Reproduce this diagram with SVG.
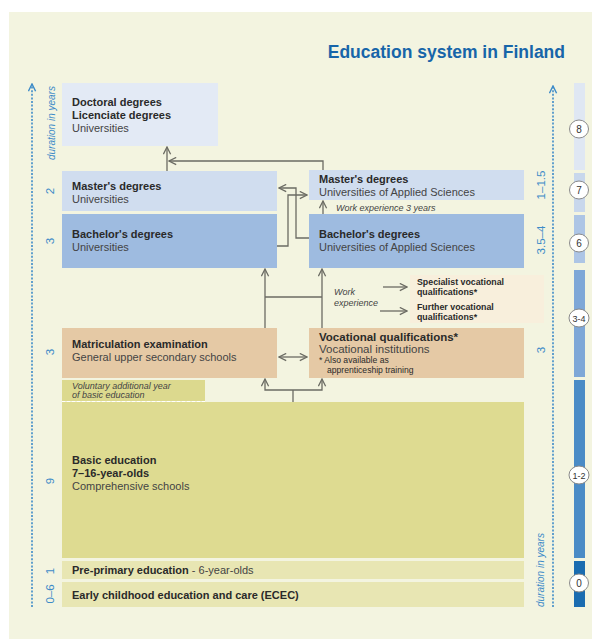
<svg xmlns="http://www.w3.org/2000/svg" width="592" height="639" viewBox="0 0 592 639">
<defs>
<marker id="arr" viewBox="0 0 10 10" refX="9" refY="5" markerWidth="9" markerHeight="9" markerUnits="userSpaceOnUse" orient="auto-start-reverse">
<path d="M1,1 L9,5 L1,9" fill="none" stroke="#6b6b63" stroke-width="1.4"/>
</marker>
<marker id="axarr" viewBox="0 0 10 10" refX="9" refY="5" markerWidth="9" markerHeight="9" markerUnits="userSpaceOnUse" orient="auto">
<path d="M1,1 L9,5 L1,9" fill="none" stroke="#3d8bc8" stroke-width="1.6"/>
</marker>
<style>
text{font-family:"Liberation Sans",Arial,sans-serif;fill:#2a2a2a;}
.b{font-weight:bold;font-size:11px;}
.r{font-size:11px;fill:#444;}
.s{font-size:8.6px;}
.sb{font-size:8.8px;font-weight:bold;}
.i{font-size:9px;font-style:italic;fill:#444;}
.ax{font-size:10px;font-style:italic;fill:#3d8bc8;}
.num{font-size:11.5px;fill:#3d8bc8;}
.cn{font-size:10px;fill:#333;text-anchor:middle;}
.conn{fill:none;stroke:#6b6b63;stroke-width:1.3;}
.axis{fill:none;stroke:#3d8bc8;stroke-width:1.6;stroke-dasharray:2 1.6;}
.circ{fill:#fff;stroke:#8a8a8a;stroke-width:1;}
</style>
</defs>
<rect x="0" y="0" width="592" height="639" fill="#ffffff"/>
<rect x="9" y="12" width="583" height="627" fill="#f3f4e0"/>
<text x="565" y="58" text-anchor="end" style="font-size:17.5px;font-weight:bold;fill:#1765a9">Education system in Finland</text>

<g id="axis-left">
<path class="axis" d="M32,607 V84" marker-end="url(#axarr)"/>
<text class="ax" transform="translate(55,160) rotate(-90)">duration in years</text>
<text class="num" text-anchor="middle" transform="translate(54,191) rotate(-90)">2</text>
<text class="num" text-anchor="middle" transform="translate(54,241) rotate(-90)">3</text>
<text class="num" text-anchor="middle" transform="translate(54,352) rotate(-90)">3</text>
<text class="num" text-anchor="middle" transform="translate(54,481) rotate(-90)">9</text>
<text class="num" text-anchor="middle" transform="translate(54,571) rotate(-90)">1</text>
<text class="num" text-anchor="middle" transform="translate(54,594) rotate(-90)">0–6</text>
</g>

<g id="axis-right">
<path class="axis" d="M553,607 V86" marker-end="url(#axarr)"/>
<text class="ax" transform="translate(544,607) rotate(-90)">duration in years</text>
<text class="num" text-anchor="middle" transform="translate(545,185) rotate(-90)">1–1.5</text>
<text class="num" text-anchor="middle" transform="translate(545,240) rotate(-90)">3.5–4</text>
<text class="num" text-anchor="middle" transform="translate(545,350) rotate(-90)">3</text>
</g>

<g id="level-bar">
<rect x="574" y="83" width="11" height="87" fill="#dfe7f3"/>
<rect x="574" y="173" width="11" height="39" fill="#c8d7ec"/>
<rect x="574" y="215" width="11" height="48" fill="#adc5e5"/>
<rect x="574" y="270" width="11" height="107" fill="#7ea7d7"/>
<rect x="574" y="380" width="11" height="178" fill="#4a8bc6"/>
<rect x="574" y="561" width="11" height="46" fill="#1a6cb0"/>
<ellipse class="circ" cx="579" cy="129" rx="9.5" ry="9"/><text class="cn" x="579" y="132.5">8</text>
<ellipse class="circ" cx="579" cy="190" rx="9.5" ry="9"/><text class="cn" x="579" y="193.5">7</text>
<ellipse class="circ" cx="579" cy="243" rx="9.5" ry="9"/><text class="cn" x="579" y="246.5">6</text>
<ellipse class="circ" cx="579" cy="318" rx="10" ry="9"/><text class="cn" x="579" y="321.5" style="font-size:9px">3-4</text>
<ellipse class="circ" cx="579" cy="475" rx="10" ry="9"/><text class="cn" x="579" y="478.5" style="font-size:9px">1-2</text>
<ellipse class="circ" cx="579" cy="583" rx="9.5" ry="9"/><text class="cn" x="579" y="586.5">0</text>
</g>

<g id="doctoral">
<rect x="62" y="83" width="156" height="63" fill="#e3eaf5"/>
<text class="b" x="72" y="106">Doctoral degrees</text>
<text class="b" x="72" y="119">Licenciate degrees</text>
<text class="r" x="72" y="132">Universities</text>
</g>
<g id="masters-univ">
<rect x="62" y="171" width="215" height="40" fill="#d0ddef"/>
<text class="b" x="72" y="190">Master's degrees</text>
<text class="r" x="72" y="203">Universities</text>
</g>
<g id="bachelors-univ">
<rect x="62" y="214" width="215" height="54" fill="#9ebbe0"/>
<text class="b" x="72" y="238">Bachelor's degrees</text>
<text class="r" x="72" y="251">Universities</text>
</g>
<g id="masters-uas">
<rect x="309" y="170" width="215" height="30" fill="#d0ddef"/>
<text class="b" x="319" y="183">Master's degrees</text>
<text class="r" x="319" y="196">Universities of Applied Sciences</text>
</g>
<g id="work-exp-3">
<text class="i" x="336" y="211">Work experience 3 years</text>
</g>
<g id="bachelors-uas">
<rect x="309" y="214" width="215" height="54" fill="#9ebbe0"/>
<text class="b" x="319" y="238">Bachelor's degrees</text>
<text class="r" x="319" y="251">Universities of Applied Sciences</text>
</g>
<g id="work-experience">
<text class="i" x="334" y="295">Work</text>
<text class="i" x="334" y="306">experience</text>
</g>
<g id="further-quals">
<rect x="410" y="275" width="134" height="48" fill="#f8efdc"/>
<text class="sb" x="417" y="285">Specialist vocational</text>
<text class="sb" x="417" y="295">qualifications*</text>
<text class="sb" x="417" y="310">Further vocational</text>
<text class="sb" x="417" y="320">qualifications*</text>
</g>
<g id="matriculation">
<rect x="62" y="328" width="215" height="50" fill="#e5c9a5"/>
<text class="b" x="72" y="348">Matriculation examination</text>
<text class="r" x="72" y="361">General upper secondary schools</text>
</g>
<g id="vocational">
<rect x="309" y="328" width="215" height="50" fill="#e5c9a5"/>
<text class="b" x="319" y="341" style="font-size:11.5px">Vocational qualifications*</text>
<text class="r" x="319" y="353" style="font-size:11.5px">Vocational institutions</text>
<text class="s" x="319" y="363">*  Also available as</text>
<text class="s" x="327" y="373">apprenticeship training</text>
</g>
<g id="voluntary">
<rect x="62" y="380" width="143" height="21" fill="#dcd98e"/>
<text class="i" x="72" y="389">Voluntary additional year</text>
<text class="i" x="72" y="398">of basic education</text>
</g>
<g id="basic">
<rect x="62" y="402" width="462" height="156" fill="#dedb91"/>
<line x1="62" y1="401.5" x2="205" y2="401.5" stroke="#ffffff" stroke-width="1" stroke-dasharray="3 2"/>
<text class="b" x="72" y="464">Basic education</text>
<text class="b" x="72" y="477">7–16-year-olds</text>
<text class="r" x="72" y="490">Comprehensive schools</text>
</g>
<g id="pre-primary">
<rect x="62" y="561" width="462" height="18" fill="#e8e6b3"/>
<text x="72" y="574"><tspan class="b">Pre-primary education</tspan><tspan class="r"> - 6-year-olds</tspan></text>
</g>
<g id="ecec">
<rect x="62" y="582" width="462" height="25" fill="#e8e6b3"/>
<text class="b" x="72" y="599">Early childhood education and care (ECEC)</text>
</g>

<g id="connectors">
<path class="conn" d="M167,171 V147" marker-end="url(#arr)"/>
<path class="conn" d="M323,170 V161 H169" marker-end="url(#arr)"/>
<path class="conn" d="M277,246 H288 V195 H307" marker-end="url(#arr)"/>
<path class="conn" d="M309,238 H296 V188 H279" marker-end="url(#arr)"/>
<path class="conn" d="M323,214 V201" marker-end="url(#arr)"/>
<path class="conn" d="M265,328 V269" marker-end="url(#arr)"/>
<path class="conn" d="M322,328 V269" marker-end="url(#arr)"/>
<path class="conn" d="M265,297 H322"/>
<path class="conn" d="M279,357 H307" marker-start="url(#arr)" marker-end="url(#arr)"/>
<path class="conn" d="M265,379 V390 H322 V379" marker-start="url(#arr)" marker-end="url(#arr)"/>
<path class="conn" d="M293,402 V390"/>
<path class="conn" d="M383,287 H407" marker-end="url(#arr)"/>
<path class="conn" d="M380,311 H407" marker-end="url(#arr)"/>
</g>
</svg>
